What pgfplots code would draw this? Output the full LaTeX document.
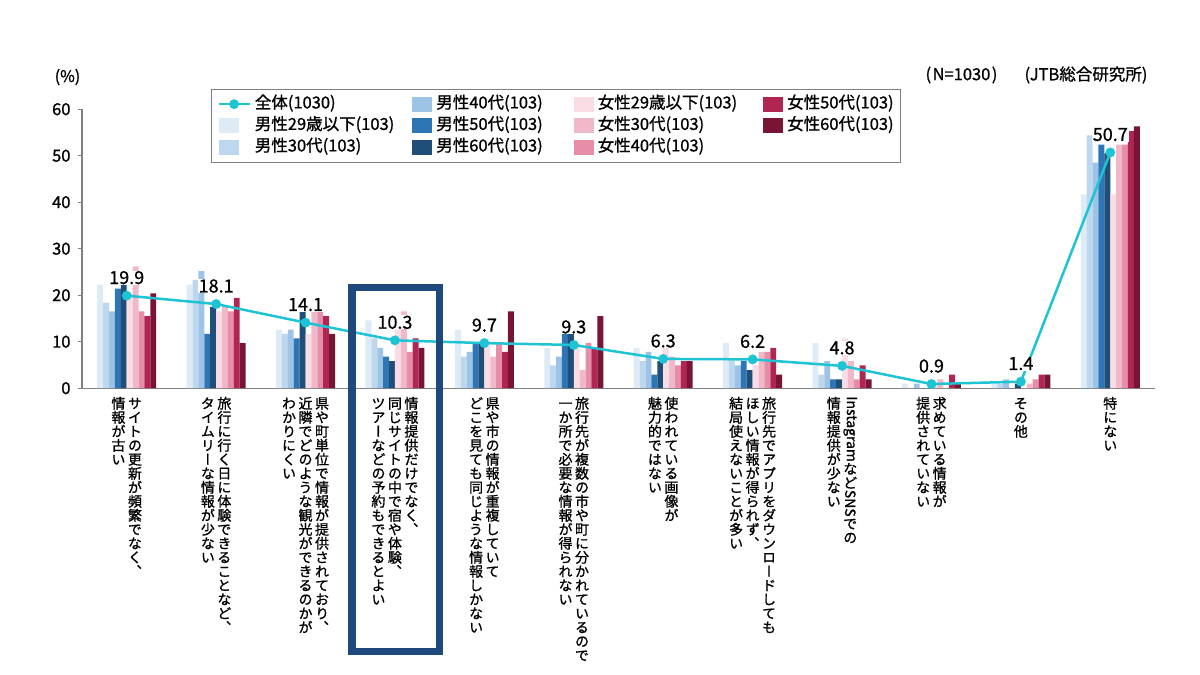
\documentclass[border=0pt]{standalone}
\usepackage{pgfplots}
\pgfplotsset{compat=1.18}
\usepackage{pgfplotstable}
\usepackage{fontspec}
\usepackage{graphicx}
\setmainfont{Noto Sans CJK JP}[FakeBold=1]
% same face with vertical glyph forms (、 ー ッ ...) for the stacked category names
\newfontfamily\jpv{Noto Sans CJK JP}[RawFeature=+vert, FakeBold=1]

\definecolor{m29}{HTML}{DDEBF7}
\definecolor{m30}{HTML}{BDD7EE}
\definecolor{m40}{HTML}{9DC3E6}
\definecolor{m50}{HTML}{2E75B6}
\definecolor{m60}{HTML}{1F4E79}
\definecolor{f29}{HTML}{FADCE4}
\definecolor{f30}{HTML}{F0B8C9}
\definecolor{f40}{HTML}{E68DA8}
\definecolor{f50}{HTML}{B02552}
\definecolor{f60}{HTML}{7A1434}
\definecolor{total}{HTML}{1EC3D4}
\definecolor{framecol}{HTML}{1F497D}
\definecolor{axisgray}{HTML}{808080}

% ---- vertical (tategaki) labels: one column per line, first line on the right
\ExplSyntaxOn
\cs_new_protected:Npn \vt_column:n #1
  {
    \vbox_top:n
      {
        \offinterlineskip
        \tl_map_inline:nn {#1}
          {
            \hbox_to_wd:nn { 14bp }
              { \hss \vrule height 12.2bp depth 1.8bp width 0pt ##1 \hss }
          }
      }
  }
\seq_new:N \l_vt_cols_seq
\NewDocumentCommand \vlabel { m }
  {
    \seq_set_from_clist:Nn \l_vt_cols_seq {#1}
    \seq_reverse:N \l_vt_cols_seq
    \hbox:n
      {
        \jpv \fontsize{14bp}{14bp}\selectfont
        \seq_map_inline:Nn \l_vt_cols_seq { \vt_column:n {##1} \skip_horizontal:n {2.5bp} }
        \skip_horizontal:n {-2.5bp}
      }
  }
\NewDocumentCommand \sideways { m } { \raisebox{12.2bp}{\rotatebox{-90}{#1}} }
\ExplSyntaxOff

\pgfplotsset{
  swatch/.style={legend image code/.code={\fill[##1, draw=none] (0bp,-7.5bp) rectangle (20bp,7.5bp);}},
  lineicon/.style={legend image code/.code={\draw[mark repeat=2, mark phase=2, ##1] plot coordinates {(0bp,0bp) (15.5bp,0bp) (31bp,0bp)};}},
  grp/.style={ybar, bar width=5.9bp, draw=none, swatch},
}

\pgfplotstableread{
x  m29  m30  m40  m50  m60  f29  f30  f40  f50  f60  all
0  22.3 18.4 16.5 21.4 22.3 20.4 26.2 16.5 15.5 20.4 19.9
1  22.3 23.3 25.2 11.7 17.5 16.5 17.5 16.5 19.4 9.7  18.1
2  12.6 11.7 12.6 10.7 16.5 11.7 16.5 16.5 15.5 11.7 14.1
3  14.6 10.7 8.7  6.8  5.8  12.6 16.5 7.8  10.7 8.7  10.3
4  12.6 6.8  7.8  9.7  9.7  9.7  6.8  9.7  7.8  16.5 9.7
5  8.7  4.9  6.8  11.7 11.7 9.7  3.9  9.7  8.7  15.5 9.3
6  8.7  5.8  7.8  2.9  5.8  8.7  6.8  4.9  5.8  5.8  6.3
7  9.7  5.8  4.9  5.8  3.9  4.9  7.8  7.8  8.7  2.9  6.2
8  9.7  2.9  5.8  1.9  1.9  10.7 5.8  1.9  4.9  1.9  4.8
9  1.0  0.0  1.0  0.0  0.0  1.0  1.9  0.0  2.9  1.0  0.9
10 1.0  1.0  1.9  0.0  1.0  0.0  1.0  1.9  2.9  2.9  1.4
11 41.7 54.4 48.5 52.4 50.5 41.7 52.4 52.4 55.3 56.3 50.7
}\datatable

\begin{document}
\begin{tikzpicture}
\useasboundingbox (0bp,0bp) rectangle (1200bp,-675bp);
\begin{axis}[
  at={(82bp,-388.2bp)}, anchor=south west,
  scale only axis, width=1073bp, height=279bp,
  xmin=-0.5, xmax=11.5, ymin=0, ymax=60,
  axis x line*=bottom, axis y line*=left,
  axis line style={draw=axisgray, line width=1.3bp},
  ytick={0,10,...,60},
  tick align=outside, major tick length=4bp,
  y tick style={draw=axisgray, line width=1.3bp},
  x tick style={draw=none},
  xtick={0,...,11},
  xticklabels={
    {\vlabel{サイトの更新が頻繁でなく、,情報が古い}},
    {\vlabel{旅行に行く日に体験できることなど、,タイムリーな情報が少ない}},
    {\vlabel{県や町単位で情報が提供されており、,近隣でどのような観光ができるのかが,わかりにくい}},
    {\vlabel{情報提供だけでなく、,同じサイトの中で宿や体験、,ツアーなどの予約もできるとよい}},
    {\vlabel{県や市の情報が重複していて,どこを見ても同じような情報しかない}},
    {\vlabel{旅行先が複数の市や町に分かれているので,一か所で必要な情報が得られない}},
    {\vlabel{使われている画像が,魅力的ではない}},
    {\vlabel{旅行先でアプリをダウンロードしても,ほしい情報が得られず、,結局使えないことが多い}},
    {\vlabel{{\sideways{Instagram}}など{\sideways{SNS}}での,情報提供が少ない}},
    {\vlabel{求めている情報が,提供されていない}},
    {\vlabel{その他}},
    {\vlabel{特にない}}
  },
  xticklabel style={anchor=north, inner sep=0pt, yshift=-4bp},
  yticklabel style={font=\fontsize{16.5bp}{16.5bp}\selectfont, xshift=-4bp},
  /pgf/number format/assume math mode=true,
  clip=false,
  legend style={at={(0.1202,1.0724)}, anchor=north west,
    draw=axisgray, line width=0.8bp,
    font=\fontsize{16.5bp}{16.5bp}\selectfont,
    inner xsep=6bp, inner ysep=6bp, row sep=4bp,
    nodes={inner sep=1bp, text height=12bp, text depth=3.5bp},
    /tikz/every odd column/.style={column sep=3bp},
    /tikz/column 2/.style={column sep=17bp},
    /tikz/column 4/.style={column sep=30bp},
    /tikz/column 6/.style={column sep=25bp}},
  legend cell align=left,
  legend columns=3, transpose legend,
]
\addlegendimage{color=total, line width=2.5bp, mark=*, mark size=3.6bp, lineicon}
\addlegendentry{全体(1030)}
\addplot[grp, bar shift=-26.55bp, fill=m29] table[x=x, y=m29] {\datatable};
\addlegendentry{男性29歳以下(103)}
\addplot[grp, bar shift=-20.65bp, fill=m30] table[x=x, y=m30] {\datatable};
\addlegendentry{男性30代(103)}
\addplot[grp, bar shift=-14.75bp, fill=m40] table[x=x, y=m40] {\datatable};
\addlegendentry{男性40代(103)}
\addplot[grp, bar shift=-8.85bp, fill=m50] table[x=x, y=m50] {\datatable};
\addlegendentry{男性50代(103)}
\addplot[grp, bar shift=-2.95bp, fill=m60] table[x=x, y=m60] {\datatable};
\addlegendentry{男性60代(103)}
\addplot[grp, bar shift=2.95bp, fill=f29] table[x=x, y=f29] {\datatable};
\addlegendentry{女性29歳以下(103)}
\addplot[grp, bar shift=8.85bp, fill=f30] table[x=x, y=f30] {\datatable};
\addlegendentry{女性30代(103)}
\addplot[grp, bar shift=14.75bp, fill=f40] table[x=x, y=f40] {\datatable};
\addlegendentry{女性40代(103)}
\addplot[grp, bar shift=20.65bp, fill=f50] table[x=x, y=f50] {\datatable};
\addlegendentry{女性50代(103)}
\addplot[grp, bar shift=26.55bp, fill=f60] table[x=x, y=f60] {\datatable};
\addlegendentry{女性60代(103)}
% overall share: line with value labels
\addplot[forget plot, color=total, line width=2.5bp, mark=*, mark size=3.6bp,
  nodes near coords={\pgfmathprintnumber[fixed,precision=1,fixed zerofill]{\pgfplotspointmeta}},
  every node near coord/.append style={font=\fontsize{18bp}{18bp}\selectfont,
    fill=white, text=black, inner xsep=1bp, inner ysep=0.5bp,
    anchor=center, yshift=18bp}]
  table[x=x, y=all] {\datatable};
\end{axis}
\node[font=\fontsize{16bp}{16bp}\selectfont] at (67.5bp,-77bp) {(\%)};
\node[font=\fontsize{16.5bp}{16.5bp}\selectfont] at (961.5bp,-75bp) {(\kern1.5bp N=1030\kern1.5bp)};
\node[font=\fontsize{16.5bp}{16.5bp}\selectfont] at (1086bp,-75bp) {(JTB総合研究所)};
\draw[framecol, line width=7.5bp] (352bp,-287.5bp) rectangle (439.5bp,-651.5bp);
\end{tikzpicture}
\end{document}
